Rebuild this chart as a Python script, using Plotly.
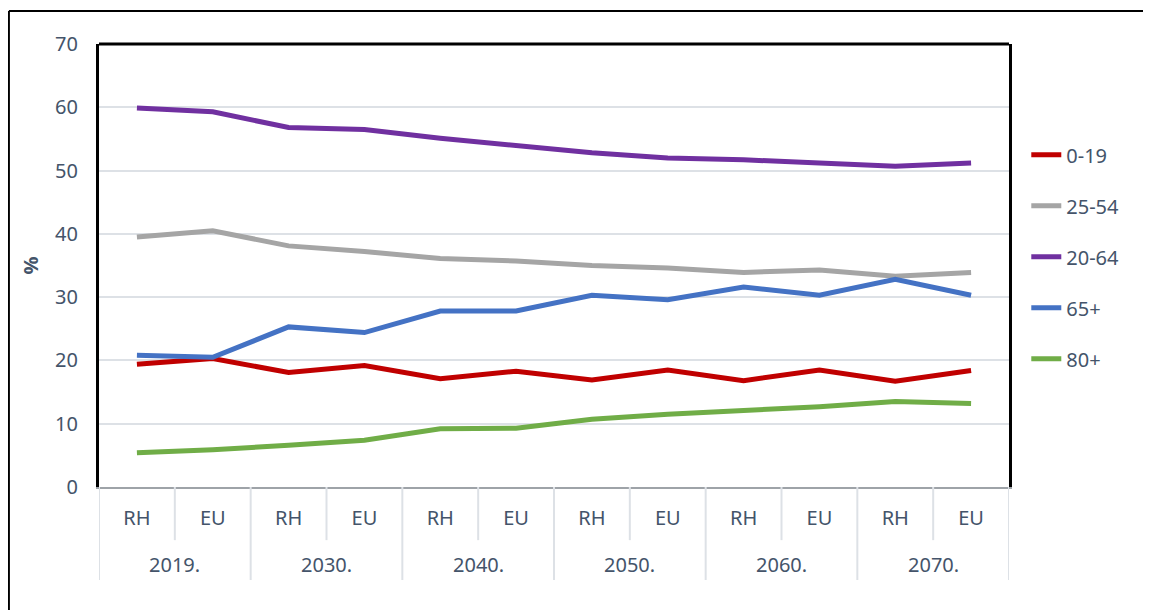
import plotly.graph_objects as go

godine = ["2019.", "2030.", "2040.", "2050.", "2060.", "2070."]
izvori = ["RH", "EU"]

dob_0_19 = [19.4, 20.3, 18.1, 19.2, 17.1, 18.3, 16.9, 18.5, 16.8, 18.5, 16.7, 18.4]
dob_25_54 = [39.5, 40.5, 38.1, 37.2, 36.1, 35.7, 35.0, 34.6, 33.9, 34.3, 33.3, 33.9]
dob_20_64 = [59.9, 59.3, 56.8, 56.5, 55.1, 54.0, 52.8, 52.0, 51.7, 51.2, 50.7, 51.2]
dob_65 = [20.8, 20.5, 25.3, 24.4, 27.8, 27.8, 30.3, 29.6, 31.6, 30.3, 32.8, 30.3]
dob_80 = [5.4, 5.9, 6.6, 7.4, 9.2, 9.3, 10.7, 11.5, 12.1, 12.7, 13.5, 13.2]

# kategorije: godina + RH/EU
x = [f"{g} {i}" for g in godine for i in izvori]
x_oznake = [i for _ in godine for i in izvori]

serije = [
    ("0-19", dob_0_19, "#C00000"),
    ("25-54", dob_25_54, "#A5A5A5"),
    ("20-64", dob_20_64, "#7030A0"),
    ("65+", dob_65, "#4472C4"),
    ("80+", dob_80, "#70AD47"),
]

fig = go.Figure()
for ime, y, boja in serije:
    fig.add_trace(go.Scatter(x=x, y=y, mode="lines", name=ime, legendgroup=ime,
                             line=dict(color=boja, width=5)))

font_boja = "#44546A"
mreza = "#DDE1E6"
fig.update_layout(
    width=1143, height=602,
    margin=dict(l=91, r=142, t=36, b=123),
    plot_bgcolor="white", paper_bgcolor="white",
    font=dict(family="Noto Sans", size=20, color=font_boja),
    showlegend=True,
    legend=dict(x=1.019, y=0.794, xanchor="left", yanchor="top",
                tracegroupgap=22, font=dict(size=20, color=font_boja)),
)
fig.update_yaxes(range=[0, 70], dtick=10, showgrid=True, gridcolor=mreza, gridwidth=2,
                 showline=True, linecolor="black", linewidth=3, mirror=True,
                 zeroline=False, ticks="", ticklabelstandoff=14, automargin=False,
                 title=dict(text="<b>%</b>", standoff=12, font=dict(size=20)))
fig.update_xaxes(type="category", range=[-0.5, len(x) - 0.5],
                 tickvals=x, ticktext=x_oznake, ticks="", ticklabelstandoff=12,
                 showline=True, linecolor="#9EA3A8", linewidth=2,
                 automargin=False, showgrid=False)

# gornja crta okvira grafa
fig.add_shape(type="line", xref="paper", yref="paper", x0=0, x1=1, y0=1, y1=1,
              line=dict(color="black", width=3))

# crtice između RH/EU i razdjelnici između godina
for k in range(len(x) + 1):
    granica = k - 0.5
    dno = -0.21 if k % 2 == 0 else -0.12
    fig.add_shape(type="line", xref="x", yref="paper", x0=granica, x1=granica, y0=0, y1=dno,
                  line=dict(color=mreza, width=2))

# oznake godina
for j, g in enumerate(godine):
    fig.add_annotation(x=2 * j + 0.5, y=-0.176, xref="x", yref="paper", text=g,
                       showarrow=False, yanchor="middle", font=dict(size=20, color=font_boja))

# vanjski okvir slike
fig.add_shape(type="line", xref="paper", yref="paper", x0=-0.099, x1=1.2, y0=1.0745, y1=1.0745,
              line=dict(color="black", width=2))
fig.add_shape(type="line", xref="paper", yref="paper", x0=-0.099, x1=-0.099, y0=1.0745, y1=-0.4,
              line=dict(color="black", width=2))

fig.write_html("out.html")
